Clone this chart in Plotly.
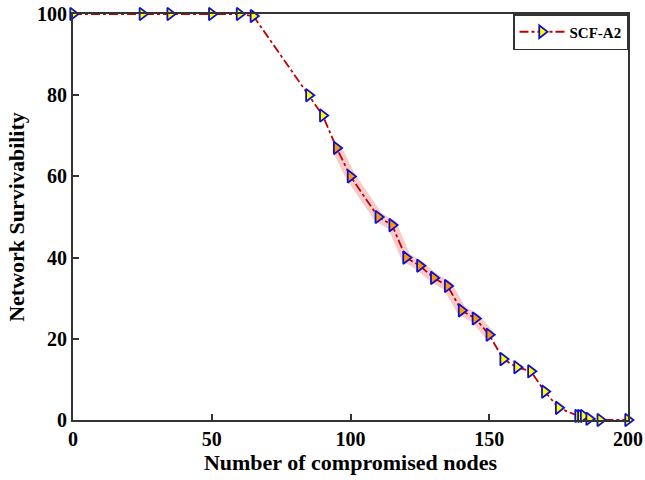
import plotly.graph_objects as go

nodes = [0, 25, 35, 50, 60, 65, 85, 90, 95, 100, 110, 115, 120, 125, 130, 135, 140, 145, 150,
         155, 160, 165, 170, 175, 182, 183, 184, 186, 190, 200]
survivability = [100, 100, 100, 100, 100, 99.5, 80, 75, 67, 60, 50, 48, 40, 38, 35, 33, 27, 25, 21,
                 15, 13, 12, 7, 3, 1, 1, 1, 0.3, 0, 0]
highlight_range = (95, 150)
x_ticks = [0, 50, 100, 150, 200]
y_ticks = [0, 20, 40, 60, 80, 100]

font_family = "Liberation Serif"

band_x = [x for x in nodes if highlight_range[0] <= x <= highlight_range[1]]
band_y = [y for x, y in zip(nodes, survivability) if highlight_range[0] <= x <= highlight_range[1]]
fill_colors = ["#FF9A00" if highlight_range[0] <= x <= highlight_range[1] else "#FFFF00" for x in nodes]

fig = go.Figure()
fig.add_trace(go.Scatter(
    x=band_x, y=band_y, mode="lines",
    line=dict(color="rgba(240,140,140,0.45)", width=10),
    showlegend=False, hoverinfo="skip", cliponaxis=False,
))
fig.add_trace(go.Scatter(
    x=nodes, y=survivability, mode="lines+markers", name="SCF-A2",
    line=dict(color="#C00000", width=1.8, dash="dashdot"),
    marker=dict(symbol="triangle-right", size=11, color=fill_colors,
                line=dict(color="#1010C8", width=1.8)),
    cliponaxis=False,
))

axis_common = dict(
    showline=True, linecolor="#333333", linewidth=2, mirror=True,
    ticks="inside", ticklen=6, tickwidth=1.5, tickcolor="#333333",
    showgrid=False, zeroline=False, automargin=False,
    tickfont=dict(family=font_family, size=20, color="black", weight="bold"),
)

fig.update_layout(
    width=645, height=480,
    margin=dict(l=73, r=17, t=14, b=60, autoexpand=False),
    plot_bgcolor="white", paper_bgcolor="white",
    xaxis=dict(range=[0, 200], tickvals=x_ticks,
               title=dict(text="<b>Number of compromised nodes</b>",
                          font=dict(family=font_family, size=22, color="black"), standoff=4),
               **axis_common),
    yaxis=dict(range=[0, 100], tickvals=y_ticks,
               title=dict(text="<b>Network Survivability</b>",
                          font=dict(family=font_family, size=22, color="black"), standoff=6),
               **axis_common),
    legend=dict(x=1, y=1, xanchor="right", yanchor="top",
                bordercolor="#333333", borderwidth=1.5, bgcolor="white",
                font=dict(family=font_family, size=15, color="black", weight="bold"),
                itemwidth=45, tracegroupgap=0),
    showlegend=True,
)

fig.write_html("out.html", config={"displayModeBar": False},
               post_script="document.body.style.margin='0';document.body.style.padding='0';")
